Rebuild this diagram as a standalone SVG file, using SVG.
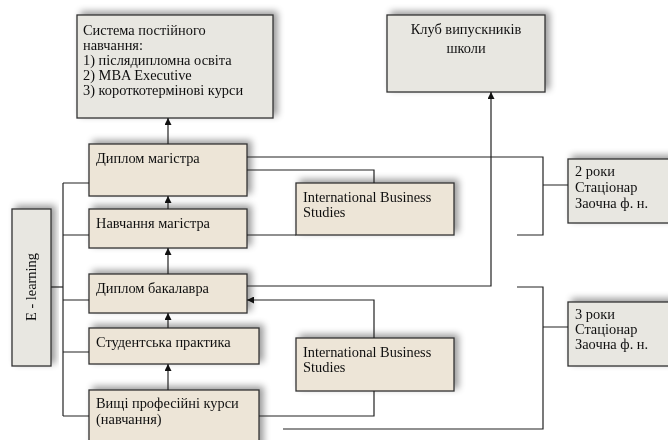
<svg xmlns="http://www.w3.org/2000/svg" width="668" height="440" viewBox="0 0 668 440">
<defs>
<filter id="sh" x="-20%" y="-30%" width="140%" height="160%">
<feGaussianBlur in="SourceAlpha" stdDeviation="3.5"/>
<feOffset dx="4" dy="-3" result="b"/>
<feComponentTransfer><feFuncA type="linear" slope="0.4"/></feComponentTransfer>
<feMerge><feMergeNode/><feMergeNode in="SourceGraphic"/></feMerge>
</filter>
<marker id="ah" viewBox="0 0 8 8" refX="8" refY="4" markerWidth="7" markerHeight="7" markerUnits="userSpaceOnUse" orient="auto">
<path d="M0,0 L8,4 L0,8 z" fill="#111"/>
</marker>
</defs>
<style>
.g{fill:#e8e7e1;stroke:#333;stroke-width:1.3}
.b{fill:#ede5d7;stroke:#333;stroke-width:1.3}
text{font-family:"Liberation Serif","Times New Roman",serif;font-size:14.4px;fill:#111}
#conn path,#conn line{fill:none;stroke:#222;stroke-width:1.2}
</style>
<rect width="668" height="440" fill="#fff"/>

<g id="sistema" filter="url(#sh)">
<rect class="g" x="77" y="15" width="196" height="103"/>
<text x="83" y="35">Система постійного</text>
<text x="83" y="50">навчання:</text>
<text x="83" y="65">1) післядипломна освіта</text>
<text x="83" y="80">2) MBA Executive</text>
<text x="83" y="95">3) короткотермінові курси</text>
</g>

<g id="klub" filter="url(#sh)">
<rect class="g" x="387" y="15" width="158" height="77"/>
<text x="466" y="34" text-anchor="middle">Клуб випускників</text>
<text x="466" y="53" text-anchor="middle">школи</text>
</g>

<g id="elearning" filter="url(#sh)">
<rect class="g" x="12" y="209" width="39" height="157"/>
<text transform="translate(36,287) rotate(-90)" text-anchor="middle">E - learning</text>
</g>

<g id="dyplom-mag" filter="url(#sh)">
<rect class="b" x="89" y="144" width="158" height="52"/>
<text x="96" y="163">Диплом магістра</text>
</g>

<g id="navch-mag" filter="url(#sh)">
<rect class="b" x="89" y="209" width="158" height="39"/>
<text x="96" y="228">Навчання магістра</text>
</g>

<g id="dyplom-bak" filter="url(#sh)">
<rect class="b" x="89" y="274" width="158" height="39"/>
<text x="96" y="293">Диплом бакалавра</text>
</g>

<g id="praktyka" filter="url(#sh)">
<rect class="b" x="89" y="328" width="170" height="36"/>
<text x="96" y="347">Студентська практика</text>
</g>

<g id="kursy" filter="url(#sh)">
<rect class="b" x="89" y="390" width="170" height="60"/>
<text x="96" y="408">Вищі професійні курси</text>
<text x="96" y="424">(навчання)</text>
</g>

<g id="ibs1" filter="url(#sh)">
<rect class="b" x="296" y="183" width="158" height="52"/>
<text x="303" y="202">International Business</text>
<text x="303" y="217">Studies</text>
</g>

<g id="ibs2" filter="url(#sh)">
<rect class="b" x="296" y="338" width="158" height="53"/>
<text x="303" y="357">International Business</text>
<text x="303" y="372">Studies</text>
</g>

<g id="roky2" filter="url(#sh)">
<rect class="g" x="568" y="159" width="106" height="64"/>
<text x="575" y="176">2 роки</text>
<text x="575" y="192">Стаціонар</text>
<text x="575" y="208">Заочна ф. н.</text>
</g>

<g id="roky3" filter="url(#sh)">
<rect class="g" x="568" y="302" width="106" height="64"/>
<text x="575" y="319">3 роки</text>
<text x="575" y="334">Стаціонар</text>
<text x="575" y="349">Заочна ф. н.</text>
</g>

<g id="conn">
<line x1="168" y1="144" x2="168" y2="118" marker-end="url(#ah)"/>
<line x1="168" y1="209" x2="168" y2="196" marker-end="url(#ah)"/>
<line x1="168" y1="274" x2="168" y2="248" marker-end="url(#ah)"/>
<line x1="168" y1="328" x2="168" y2="313" marker-end="url(#ah)"/>
<line x1="168" y1="390" x2="168" y2="364" marker-end="url(#ah)"/>
<path d="M51,287 H63"/>
<path d="M63,183 V416"/>
<path d="M63,183 H89 M63,235 H89 M63,300 H89 M63,352 H89 M63,416 H89"/>
<path d="M247,157 H543 V235 H517 M543,185 H568"/>
<path d="M247,170 H374 V183"/>
<path d="M247,235 H296"/>
<path d="M247,286 H491 V92" marker-end="url(#ah)"/>
<path d="M374,338 V300 H247" marker-end="url(#ah)"/>
<path d="M259,416 H374 V391"/>
<path d="M517,287 H543 V429 H283 M543,327 H568"/>
</g>
</svg>
